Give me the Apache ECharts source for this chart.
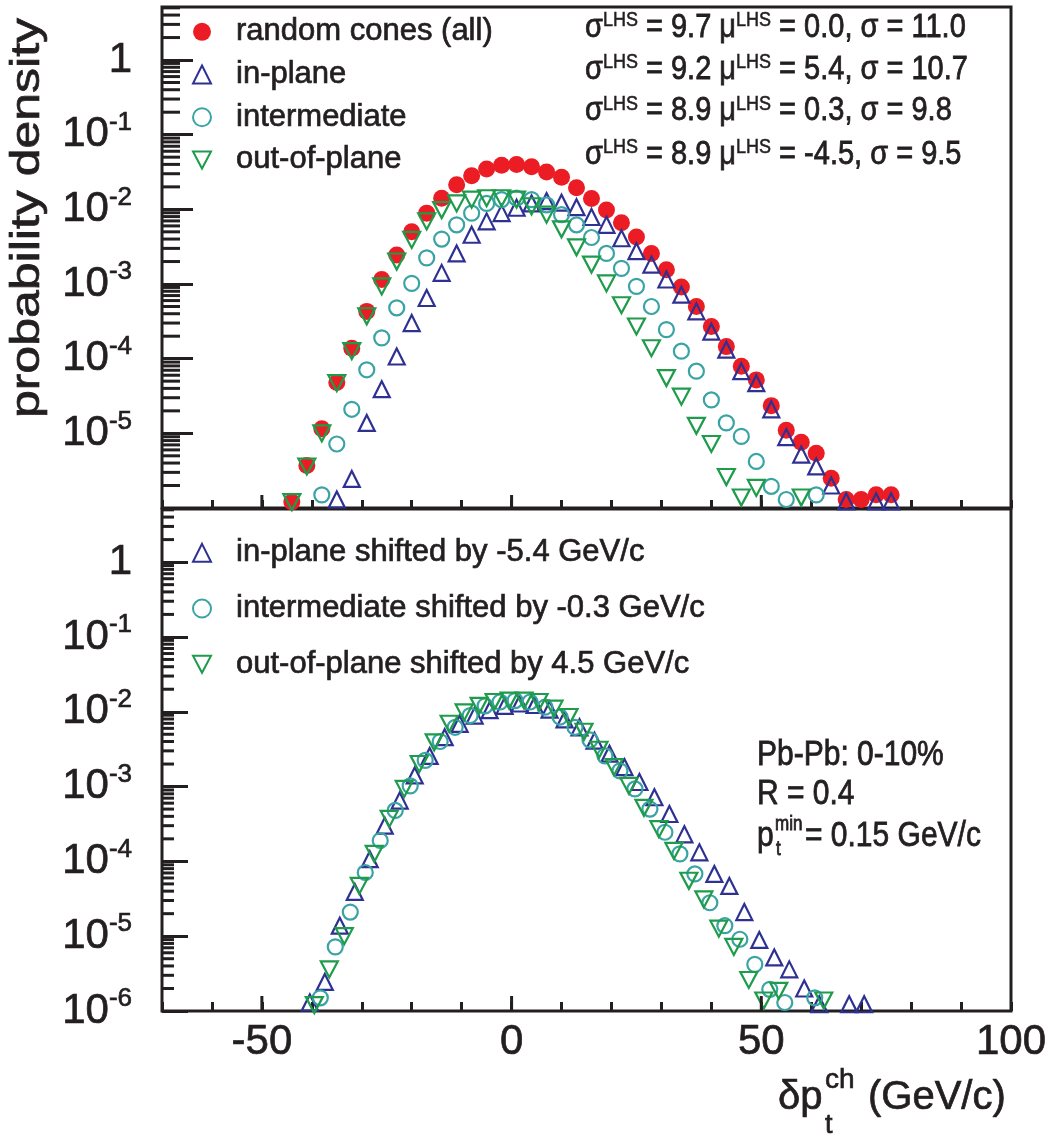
<!DOCTYPE html>
<html><head><meta charset="utf-8">
<script src="https://cdn.jsdelivr.net/npm/echarts@6/dist/echarts.min.js"></script>
<style>html,body{margin:0;padding:0;background:#fff}#c{width:1051px;height:1136px}</style>
</head><body><div id="c"></div>
<script>
// ---------------- data ----------------
const binCenters = [-44,-41,-38,-35,-32,-29,-26,-23,-20,-17,-14,-11,-8,-5,-2,1,4,7,10,13,16,19,22,25,28,31,34,37,40,43,46,49,52,55,58,61,64,67,70,73,76];
const allCones = [1.2e-6,3.7e-6,1.15e-5,4.8e-5,1.38e-4,4.3e-4,1.15e-3,2.45e-3,5.0e-3,8.9e-3,1.41e-2,2.14e-2,2.82e-2,3.47e-2,3.89e-2,3.98e-2,3.72e-2,3.16e-2,2.7e-2,1.95e-2,1.40e-2,9.8e-3,6.6e-3,4.27e-3,2.57e-3,1.55e-3,9.1e-4,5.0e-4,2.7e-4,1.45e-4,7.9e-5,5.2e-5,2.35e-5,1.1e-5,7.6e-6,5.4e-6,2.5e-6,1.3e-6,1.3e-6,1.5e-6,1.5e-6];
const inPlane = [null,null,null,1.3e-6,2.45e-6,1.38e-5,3.9e-5,1.07e-4,3.0e-4,6.5e-4,1.41e-3,2.57e-3,4.57e-3,6.9e-3,8.9e-3,1.05e-2,1.2e-2,1.29e-2,1.23e-2,1.07e-2,7.9e-3,6.2e-3,4.1e-3,2.75e-3,1.82e-3,1.15e-3,7.2e-4,4.3e-4,2.3e-4,1.32e-4,6.8e-5,4.7e-5,2.1e-5,8.9e-6,5.2e-6,3.6e-6,2.0e-6,1.23e-6,null,1.23e-6,1.23e-6];
const intermediate = [null,null,1.5e-6,7.2e-6,2.1e-5,7.1e-5,1.9e-4,4.8e-4,1.02e-3,2.24e-3,4.0e-3,6.2e-3,8.9e-3,1.2e-2,1.35e-2,1.41e-2,1.35e-2,1.15e-2,8.5e-3,6.2e-3,4.2e-3,2.57e-3,1.62e-3,9.3e-4,5.0e-4,2.45e-4,1.26e-4,6.8e-5,2.8e-5,1.38e-5,9.1e-6,4.2e-6,1.95e-6,1.3e-6,null,1.5e-6,null,null,null,null,null];
const outOfPlane = [1.2e-6,3.6e-6,1.0e-5,4.7e-5,1.26e-4,3.7e-4,9.3e-4,2.0e-3,3.9e-3,6.9e-3,9.8e-3,1.2e-2,1.35e-2,1.41e-2,1.41e-2,1.35e-2,1.1e-2,8.5e-3,5.4e-3,3.1e-3,1.82e-3,1.02e-3,5.2e-4,2.7e-4,1.38e-4,5.5e-5,3.1e-5,1.26e-5,7.2e-6,2.6e-6,1.38e-6,1.86e-6,null,null,1.38e-6,null,null,null,null,null,null];
const shiftIn = -5.4, shiftMid = -0.3, shiftOut = 4.5;
const topNames = ['random cones (all)','in-plane','intermediate','out-of-plane'];
const botNames = ['in-plane shifted by -5.4 GeV/c','intermediate shifted by -0.3 GeV/c','out-of-plane shifted by 4.5 GeV/c'];
const sigmaLHS = ['9.7','9.2','8.9','8.9'];
const muLHS = ['0.0','5.4','0.3','-4.5'];
const sigmaFit = ['11.0','10.7','9.8','9.5'];
const xMajorTicks = [-50, 0, 50];
const X_MIN = -70, X_MAX = 100, X_STEP = 10;
const Y_MIN = 1e-6, Y_MAX = 5.13;
const minorMantissas = [2,3,4,5,6,7,8,9];
const decades = [-6,-5,-4,-3,-2,-1,0];
// ---------------------------------------
const yMinorTicks = [];
decades.forEach(d => minorMantissas.forEach(m => { const v = m * Math.pow(10, d); if (v < Y_MAX) yMinorTicks.push(v); }));

const INK = '#231f20', RED = '#ec1c24', BLUE = '#2e3192', TEAL = '#3aa3a3', GREEN = '#1f9b4c';
const FONT = 'Liberation Sans';
const CLEAR = 'rgba(0,0,0,0)';
const DOWN_TRI = 'path://M0,0L20,0L10,19Z';
const TB = 0.7; // text thickening stroke

function pts(vals, shift) {
  const out = [];
  binCenters.forEach((x, i) => { if (vals[i] != null) out.push([+(x + shift).toFixed(2), vals[i]]); });
  return out;
}
function decadeLabel(v) {
  const e = Math.log10(v), r = Math.round(e);
  if (Math.abs(e - r) > 1e-6) return '';
  return r === 0 ? '{b|1}' : '{b|10}{s|' + r + '}';
}
function tickSeries(xi, yi, data, dir, len) {
  return {
    type: 'custom', xAxisIndex: xi, yAxisIndex: yi, silent: true, z: 6, clip: false, data,
    renderItem: (params, api) => {
      const p = api.coord([api.value(0), api.value(1)]);
      const shape = dir === 'y' ? {x1: p[0], y1: p[1], x2: p[0] + len, y2: p[1]}
                                : {x1: p[0], y1: p[1], x2: p[0], y2: p[1] - len};
      return {type: 'line', shape, style: {stroke: INK, lineWidth: 3}};
    }
  };
}
const hollow = c => ({color: CLEAR, borderColor: c, borderWidth: 2.2, opacity: 1});
const scat = (name, xi, data, sym, size, style) => ({
  type: 'scatter', name, xAxisIndex: xi, yAxisIndex: xi, data, symbol: sym, symbolSize: size,
  itemStyle: style, emphasis: {disabled: true}, z: 3
});

const gridBase = {left: 162, width: 849, show: true, borderColor: INK, borderWidth: 3, outerBoundsMode: 'none', containLabel: false};
const yRich = {
  b: {fontSize: 42, fontFamily: FONT, color: INK, lineHeight: 50, textBorderColor: INK, textBorderWidth: TB},
  s: {fontSize: 26, fontFamily: FONT, color: INK, verticalAlign: 'top', lineHeight: 26, textBorderColor: INK, textBorderWidth: TB}
};
const xAx = (gi, len, showLab) => ({
  gridIndex: gi, type: 'value', min: X_MIN, max: X_MAX, interval: X_STEP, position: 'bottom',
  axisLine: {show: false, onZero: false}, splitLine: {show: false},
  axisTick: {inside: true, length: len, lineStyle: {color: INK, width: 3}},
  axisLabel: {show: showLab, margin: 10, fontSize: 42, fontFamily: FONT, color: INK,
    textBorderColor: INK, textBorderWidth: TB,
    formatter: v => (v % 50 === 0 ? String(v) : '')}
});
const yAx = (gi, len, showMin) => ({
  gridIndex: gi, type: 'log', logBase: 10, min: Y_MIN, max: Y_MAX, position: 'left',
  axisLine: {show: false, onZero: false}, splitLine: {show: false},
  axisTick: {inside: true, length: len, lineStyle: {color: INK, width: 3}},
  axisLabel: {margin: 30, formatter: decadeLabel, showMinLabel: showMin, showMaxLabel: false, rich: yRich}
});
const legendBase = {
  orient: 'vertical', left: 192, padding: 0, itemWidth: 18, itemHeight: 18, selectedMode: false,
  textStyle: {fontSize: 31, fontFamily: FONT, color: INK, lineHeight: 31, padding: [0, 0, 0, 20],
    textBorderColor: INK, textBorderWidth: TB}
};
const txt = (x, y, text, size, extra) => Object.assign({
  type: 'text', x, y, silent: true,
  style: {text, fill: INK, stroke: INK, lineWidth: TB, font: size + 'px "' + FONT + '"',
    textAlign: 'left', textVerticalAlign: 'middle', align: 'left', verticalAlign: 'middle'}
}, extra || {});

const sigmaY = [27.5, 69.5, 111, 154.5];
const sigmaGraphics = sigmaLHS.map((s, i) => ({
  type: 'text', x: 585, y: sigmaY[i], scaleY: 1.15, silent: true,
  style: {
    text: '{n|σ}{u|LHS}{n| = ' + s + ' μ}{u|LHS}{n| = ' + muLHS[i] + ', σ = ' + sigmaFit[i] + '}',
    fill: INK, stroke: INK, lineWidth: TB, font: '29px "' + FONT + '"', align: 'left', verticalAlign: 'middle',
    rich: {
      n: {fontSize: 29, fontFamily: FONT, fill: INK, stroke: INK, lineWidth: TB, lineHeight: 30},
      u: {fontSize: 18, fontFamily: FONT, fill: INK, stroke: INK, lineWidth: TB * 0.7, lineHeight: 18, verticalAlign: 'top'}
    }
  }
}));

const option = {
  animation: false,
  backgroundColor: '#fff',
  grid: [Object.assign({top: 7, height: 501}, gridBase), Object.assign({top: 509, height: 502}, gridBase)],
  xAxis: [xAx(0, 8, false), xAx(1, 9, true)],
  yAxis: [yAx(0, 31, false), yAx(1, 26, true)],
  legend: [
    Object.assign({data: [topNames[0], topNames[1], topNames[2], {name: topNames[3], icon: DOWN_TRI}], top: 16, itemGap: 11}, legendBase),
    Object.assign({data: [botNames[0], botNames[1], {name: botNames[2], icon: DOWN_TRI}], top: 537, itemGap: 24}, legendBase)
  ],
  series: [
    scat(topNames[0], 0, pts(allCones, 0), 'circle', 17, {color: RED, opacity: 1}),
    scat(topNames[1], 0, pts(inPlane, 0), 'triangle', [16, 16], hollow(BLUE)),
    scat(topNames[2], 0, pts(intermediate, 0), 'circle', 15, hollow(TEAL)),
    scat(topNames[3], 0, pts(outOfPlane, 0), DOWN_TRI, [17, 16], hollow(GREEN)),
    scat(botNames[0], 1, pts(inPlane, shiftIn), 'triangle', [16, 16], hollow(BLUE)),
    scat(botNames[1], 1, pts(intermediate, shiftMid), 'circle', 15, hollow(TEAL)),
    scat(botNames[2], 1, pts(outOfPlane, shiftOut), DOWN_TRI, [17, 16], hollow(GREEN)),
    tickSeries(0, 0, yMinorTicks.map(v => [X_MIN, v]), 'y', 18),
    tickSeries(1, 1, yMinorTicks.map(v => [X_MIN, v]), 'y', 12),
    tickSeries(0, 0, xMajorTicks.map(v => [v, Y_MIN]), 'x', 13),
    tickSeries(1, 1, xMajorTicks.map(v => [v, Y_MIN]), 'x', 15)
  ],
  graphic: [
    ...sigmaGraphics,
    txt(28, 218, 'probability density', 40, {rotation: Math.PI / 2, scaleX: 1.25,
      style: {text: 'probability density', fill: INK, stroke: INK, lineWidth: TB, font: '40px "' + FONT + '"',
        align: 'center', verticalAlign: 'middle', textAlign: 'center', textVerticalAlign: 'middle'}}),
    txt(757, 755, 'Pb-Pb: 0-10%', 30, {scaleY: 1.15}),
    txt(757, 794, 'R = 0.4', 30, {scaleY: 1.15}),
    txt(757, 836, 'p', 30, {scaleY: 1.15}),
    txt(775, 825, 'min', 17, {scaleY: 1.15}),
    txt(776, 850, 't', 17, {scaleY: 1.15}),
    txt(805, 836, '= 0.15 GeV/c', 30, {scaleY: 1.15}),
    txt(778, 1098, 'δp', 40),
    txt(825, 1080, 'ch', 28),
    txt(825, 1126, 't', 27),
    txt(868, 1098, '(GeV/c)', 40)
  ]
};
const chart = echarts.init(document.getElementById('c'), null, {renderer: 'canvas'});
chart.setOption(option);
</script>
</body></html>
